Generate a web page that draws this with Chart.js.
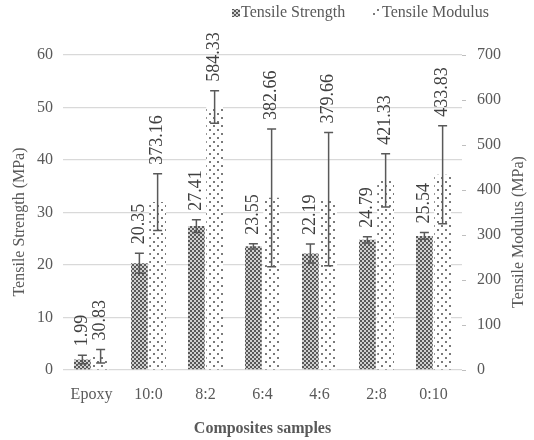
<!DOCTYPE html>
<html>
<head>
<meta charset="utf-8">
<script src="https://cdn.jsdelivr.net/npm/chart.js@4/dist/chart.umd.min.js"></script>
<style>
  html, body { margin: 0; padding: 0; background: #fff; }
  #chart { display: block; }
</style>
</head>
<body>
<canvas id="chart" width="534" height="440"></canvas>
<script>
/* global Chart */
'use strict';

// ── Data ─────────────────────────────────────────────────────────────────────

const samples       = ['Epoxy', '10:0', '8:2', '6:4', '4:6', '2:8', '0:10'];
const strength      = [1.99, 20.35, 27.41, 23.55, 22.19, 24.79, 25.54];
const strengthErr   = [0.8, 1.9, 1.2, 0.5, 1.8, 0.6, 0.65];
const modulus       = [30.83, 373.16, 584.33, 382.66, 379.66, 421.33, 433.83];
const modulusErr    = [15, 63, 36, 153, 148, 59, 109];
const strengthTicks = [0, 10, 20, 30, 40, 50, 60];
const modulusTicks  = [0, 100, 200, 300, 400, 500, 600, 700];

const FONT = 'Liberation Serif';
const TEXT = '#595959';

// ── Fill patterns ────────────────────────────────────────────────────────────

function makePattern(size, draw) {
  const tile = document.createElement('canvas');
  tile.width = tile.height = size;
  draw(tile.getContext('2d'));
  return document.getElementById('chart').getContext('2d').createPattern(tile, 'repeat');
}

// fine checker for strength
const checker = makePattern(4, g => {
  g.fillStyle = '#d0d0d0';
  g.fillRect(0, 0, 4, 4);
  g.fillStyle = '#585858';
  g.fillRect(0, 0, 2, 2);
  g.fillRect(2, 2, 2, 2);
});

// sparse staggered dots for modulus
const dots = makePattern(8, g => {
  g.fillStyle = '#ffffff';
  g.fillRect(0, 0, 8, 8);
  g.fillStyle = '#7a7a7a';
  g.fillRect(1, 1, 2, 2);
  g.fillRect(5, 5, 2, 2);
});

// ── Error bars + rotated value labels ────────────────────────────────────────

const errors = [strengthErr, modulusErr];

const errorBarPlugin = {
  id: 'errorBars',
  afterDatasetsDraw(chart) {
    const ctx = chart.ctx;
    chart.data.datasets.forEach((ds, i) => {
      const meta  = chart.getDatasetMeta(i);
      const scale = chart.scales[meta.yAxisID];
      meta.data.forEach((bar, j) => {
        const v = ds.data[j], e = errors[i][j];
        const top = scale.getPixelForValue(v + e);
        const bot = scale.getPixelForValue(Math.max(v - e, 0));
        ctx.save();
        ctx.strokeStyle = '#595959';
        ctx.lineWidth = 1.5;
        ctx.beginPath();
        ctx.moveTo(bar.x, top); ctx.lineTo(bar.x, bot);
        ctx.moveTo(bar.x - 4.5, top); ctx.lineTo(bar.x + 4.5, top);
        ctx.moveTo(bar.x - 4.5, bot); ctx.lineTo(bar.x + 4.5, bot);
        ctx.stroke();
        // value label, reading bottom to top
        ctx.translate(bar.x, top - 9);
        ctx.rotate(-Math.PI / 2);
        ctx.fillStyle = '#404040';
        ctx.font = `18px "${FONT}"`;
        ctx.textAlign = 'left';
        ctx.textBaseline = 'middle';
        ctx.fillText(v.toFixed(2), 0, 0);
        ctx.restore();
      });
    });
  }
};

// ── Legend + axis titles (drawn by hand: Excel's placement / rotation) ───────

function verticalText(ctx, text, x, y) {
  ctx.save();
  ctx.translate(x, y);
  ctx.rotate(-Math.PI / 2);
  ctx.textAlign = 'center';
  ctx.textBaseline = 'middle';
  ctx.fillText(text, 0, 0);
  ctx.restore();
}

const extrasPlugin = {
  id: 'extras',
  afterDraw(chart) {
    const ctx = chart.ctx;
    const items = [
      { x: 232, fill: checker, text: 'Tensile Strength' },
      { x: 373, fill: dots,    text: 'Tensile Modulus' }
    ];
    ctx.save();
    ctx.font = `16px "${FONT}"`;
    ctx.textBaseline = 'middle';
    for (const it of items) {
      ctx.fillStyle = it.fill;
      ctx.fillRect(it.x, 9, 8, 8);
      ctx.fillStyle = TEXT;
      ctx.fillText(it.text, it.x + 9, 13);
    }
    // both axis titles read bottom to top
    verticalText(ctx, 'Tensile Strength (MPa)', 20, 222);
    verticalText(ctx, 'Tensile Modulus (MPa)', 519, 232);
    ctx.restore();
  }
};

// ── Chart ────────────────────────────────────────────────────────────────────

new Chart(document.getElementById('chart'), {
  type: 'bar',
  data: {
    labels: samples,
    datasets: [
      {
        label: 'Tensile Strength',
        data: strength,
        backgroundColor: checker,
        yAxisID: 'y',
        categoryPercentage: 0.64,
        barPercentage: 0.92
      },
      {
        label: 'Tensile Modulus',
        data: modulus,
        backgroundColor: dots,
        yAxisID: 'y1',
        categoryPercentage: 0.64,
        barPercentage: 0.92
      }
    ]
  },
  options: {
    responsive: false,
    animation: false,
    layout: { padding: { top: 55, left: 0, right: 0, bottom: 0 } },
    plugins: {
      legend:  { display: false },
      tooltip: { enabled: false }
    },
    scales: {
      x: {
        grid:   { display: false },
        border: { display: false },
        ticks:  { color: TEXT, font: { family: FONT, size: 16 }, padding: 7 },
        title:  {
          display: true, text: 'Composites samples', color: TEXT,
          font: { family: FONT, size: 16, weight: 'bold' }, padding: { top: 0, bottom: 2 }
        },
        afterFit: s => { s.height = 70; }
      },
      y: {
        position: 'left',
        min: 0, max: 60,
        afterBuildTicks: s => { s.ticks = strengthTicks.map(value => ({ value })); },
        grid:   { color: '#d9d9d9', lineWidth: 1.3, drawTicks: false },
        border: { display: false },
        ticks:  { color: TEXT, font: { family: FONT, size: 16 }, padding: 10 },
        title:  { display: false },
        afterFit: s => { s.width = 63; }
      },
      y1: {
        position: 'right',
        min: 0, max: 700,
        afterBuildTicks: s => { s.ticks = modulusTicks.map(value => ({ value })); },
        grid:   { drawOnChartArea: false, drawTicks: true, tickLength: 4, color: '#bfbfbf' },
        border: { display: false },
        ticks:  { color: TEXT, font: { family: FONT, size: 16 }, padding: 11 },
        title:  { display: false },
        afterFit: s => { s.width = 72; }
      }
    }
  },
  plugins: [errorBarPlugin, extrasPlugin]
});
</script>
</body>
</html>
